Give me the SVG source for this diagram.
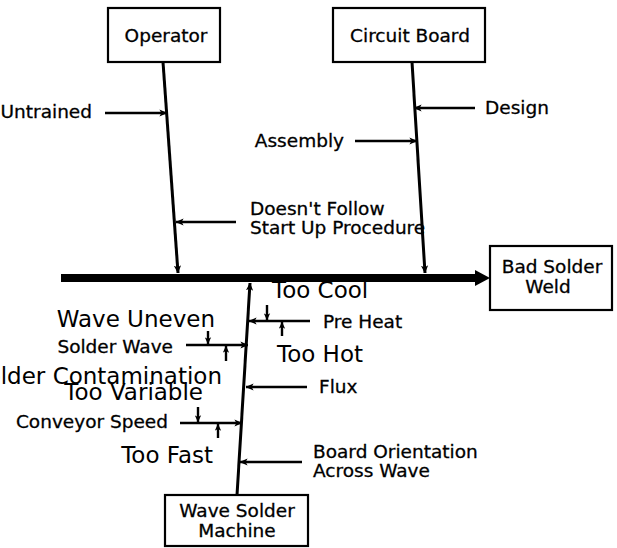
<svg xmlns="http://www.w3.org/2000/svg" width="617" height="548" viewBox="0 0 617 548">
<defs>
<style>
.box{fill:#fff;stroke:#000;stroke-width:2.2}
.t{font-family:"DejaVu Sans","Liberation Sans",sans-serif;font-size:18.5px;fill:#000;stroke:#000;stroke-width:0.3}
.big{font-family:"DejaVu Sans","Liberation Sans",sans-serif;font-size:23px;fill:#000}
.ln{stroke:#000;stroke-width:2.4;fill:none}
.br{stroke:#000;stroke-width:3;fill:none}
.c{text-anchor:middle}
.e{text-anchor:end}
</style>
<marker id="ah" viewBox="0 0 10 10" refX="9.5" refY="5" markerWidth="8" markerHeight="8" markerUnits="userSpaceOnUse" orient="auto">
<path d="M0,0.5 L10,5 L0,9.5 L2.5,5 z" fill="#000"/>
</marker>
<marker id="sh" viewBox="0 0 10 10" refX="9.5" refY="5" markerWidth="7" markerHeight="7" markerUnits="userSpaceOnUse" orient="auto">
<path d="M0,0.5 L10,5 L0,9.5 L2.5,5 z" fill="#000"/>
</marker>
</defs>
<rect width="617" height="548" fill="#fff"/>

<g id="connectors">
<line x1="61" y1="278" x2="478" y2="278" stroke="#000" stroke-width="8"/>
<polygon points="475,270 490,278 475,286" fill="#000"/>
<line class="br" x1="163" y1="62" x2="178" y2="273" marker-end="url(#ah)"/>
<line class="br" x1="412" y1="62" x2="425" y2="273" marker-end="url(#ah)"/>
<line class="br" x1="237" y1="495" x2="250" y2="283" marker-end="url(#ah)"/>
<line class="ln" x1="105" y1="113" x2="167" y2="113" marker-end="url(#ah)"/>
<line class="ln" x1="236" y1="222" x2="176" y2="222" marker-end="url(#ah)"/>
<line class="ln" x1="475" y1="108" x2="414" y2="108" marker-end="url(#ah)"/>
<line class="ln" x1="355" y1="141" x2="417" y2="141" marker-end="url(#ah)"/>
<line class="ln" x1="310" y1="321" x2="249" y2="321" marker-end="url(#ah)"/>
<line class="ln" x1="267" y1="305" x2="267" y2="320" marker-end="url(#sh)"/>
<line class="ln" x1="282" y1="336" x2="282" y2="322" marker-end="url(#sh)"/>
<line class="ln" x1="186" y1="345" x2="248" y2="345" marker-end="url(#ah)"/>
<line class="ln" x1="208" y1="331" x2="208" y2="344" marker-end="url(#sh)"/>
<line class="ln" x1="226" y1="361" x2="226" y2="346" marker-end="url(#sh)"/>
<line class="ln" x1="307" y1="387" x2="246" y2="387" marker-end="url(#ah)"/>
<line class="ln" x1="180" y1="423" x2="242" y2="423" marker-end="url(#ah)"/>
<line class="ln" x1="198" y1="407" x2="198" y2="422" marker-end="url(#sh)"/>
<line class="ln" x1="218" y1="438" x2="218" y2="424" marker-end="url(#sh)"/>
<line class="ln" x1="302" y1="462" x2="240" y2="462" marker-end="url(#ah)"/>
</g>

<g id="operator">
<rect class="box" x="108" y="8" width="112" height="54"/>
<text class="t c" x="166" y="42" font-size="20">Operator</text>
</g>
<g id="circuit-board">
<rect class="box" x="333" y="8" width="152" height="54"/>
<text class="t c" x="410" y="42" font-size="20">Circuit Board</text>
</g>
<g id="bad-solder-weld">
<rect class="box" x="490" y="246" width="122" height="64"/>
<text class="t c" x="552" y="273">Bad Solder</text>
<text class="t c" x="548" y="293">Weld</text>
</g>
<g id="wave-solder-machine">
<rect class="box" x="165" y="495" width="143" height="51"/>
<text class="t c" x="237" y="517">Wave Solder</text>
<text class="t c" x="237" y="537">Machine</text>
</g>

<g id="cause-labels">
<text class="t e" x="92" y="118">Untrained</text>
<text class="t" x="250" y="215">Doesn't Follow</text>
<text class="t" x="250" y="234" font-size="19">Start Up Procedure</text>
<text class="t" x="485" y="114">Design</text>
<text class="t e" x="344" y="147">Assembly</text>
<text class="big" x="272" y="298">Too Cool</text>
<text class="t" x="323" y="328">Pre Heat</text>
<text class="big" x="277" y="362">Too Hot</text>
<text class="t" x="319" y="393">Flux</text>
<text class="big e" x="215" y="327">Wave Uneven</text>
<text class="t e" x="173" y="353">Solder Wave</text>
<text class="big e" x="222" y="384" font-size="25">Solder Contamination</text>
<text class="big e" x="203" y="400">Too Variable</text>
<text class="t e" x="168" y="428">Conveyor Speed</text>
<text class="big e" x="213" y="463">Too Fast</text>
<text class="t" x="313" y="458">Board Orientation</text>
<text class="t" x="313" y="477">Across Wave</text>
</g>
</svg>
